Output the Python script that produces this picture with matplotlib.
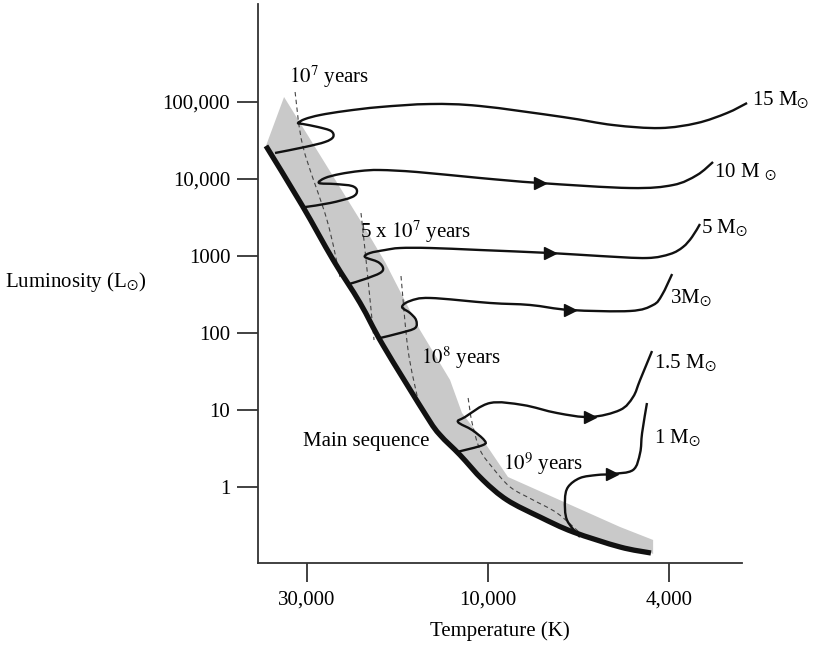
import numpy as np
import matplotlib
matplotlib.use('Agg')
import matplotlib.pyplot as plt
from matplotlib.path import Path
from matplotlib.patches import PathPatch

plt.rcParams['font.family'] = ['Liberation Serif', 'DejaVu Serif']
plt.rcParams['mathtext.fontset'] = 'stix'

# x: position on the temperature axis (0 = 30,000 K, 1 = 10,000 K, 2 = 4,000 K)
# y: log10 of luminosity in solar units
temp_ticks = [0, 1, 2]
temp_labels = ['30,000', '10,000', '4,000']
lum_ticks = [0, 1, 2, 3, 4, 5]
lum_labels = ['1', '10', '100', '1000', '10,000', '100,000']

# main sequence (thick line)
ms_x = [-0.227, -0.028, 0.144, 0.293, 0.420, 0.663, 0.735, 0.845, 0.972, 1.105, 1.287, 1.470, 1.729, 1.900]
ms_y = [4.43, 3.66, 2.95, 2.39, 1.84, 0.91, 0.675, 0.416, 0.09, -0.169, -0.39, -0.584, -0.779, -0.857]

# upper / right edge of the grey band
band_x = [-0.127, 0.044, 0.293, 0.431, 0.624, 0.790, 0.856, 0.972, 1.110, 1.729, 1.912, 1.912]
band_y = [5.065, 4.416, 3.468, 2.922, 2.039, 1.390, 0.961, 0.610, 0.130, -0.519, -0.688, -0.870]

# age lines (dashed)
d7_x = [-0.066, -0.022, 0.110, 0.182]
d7_y = [5.13, 4.416, 3.468, 2.727]
d5e7_x = [0.298, 0.326, 0.370]
d5e7_y = [3.558, 2.948, 1.909]
d8_x = [0.519, 0.558, 0.613]
d8_y = [2.740, 1.779, 1.130]
d9_x = [0.890, 0.912, 0.956, 1.022, 1.122, 1.249, 1.381, 1.508]
d9_y = [1.156, 0.831, 0.481, 0.260, 0.0, -0.169, -0.338, -0.597]

# evolutionary tracks
m15_x = [-0.177, -0.011, 0.099, 0.144, 0.133, 0.061, -0.022, -0.050, -0.011, 0.072, 0.210, 0.403,
         0.680, 0.956, 1.414, 1.691, 1.950, 2.155, 2.320, 2.431]
m15_y = [4.338, 4.416, 4.481, 4.545, 4.623, 4.675, 4.714, 4.727, 4.779, 4.831, 4.883, 4.935,
         4.974, 4.948, 4.805, 4.701, 4.662, 4.727, 4.857, 4.987]
m10_x = [-0.011, 0.127, 0.249, 0.276, 0.249, 0.155, 0.066, 0.099, 0.182, 0.293, 0.403, 0.608,
         0.956, 1.287, 1.785, 2.022, 2.155, 2.243]
m10_y = [3.636, 3.688, 3.766, 3.844, 3.909, 3.935, 3.948, 4.013, 4.065, 4.104, 4.117, 4.091,
         4.013, 3.948, 3.883, 3.922, 4.052, 4.221]
m5_x = [0.232, 0.320, 0.403, 0.420, 0.392, 0.320, 0.348, 0.431, 0.514, 0.680, 0.956, 1.343,
        1.619, 1.878, 2.006, 2.077, 2.127, 2.171]
m5_y = [2.636, 2.701, 2.779, 2.844, 2.922, 2.987, 3.039, 3.078, 3.104, 3.104, 3.078, 3.039,
        3.000, 2.974, 3.026, 3.117, 3.247, 3.416]
m3_x = [0.403, 0.514, 0.597, 0.602, 0.569, 0.525, 0.569, 0.680, 1.011, 1.232, 1.453, 1.785,
        1.912, 1.961, 2.017]
m3_y = [1.935, 2.000, 2.065, 2.169, 2.260, 2.338, 2.416, 2.455, 2.390, 2.364, 2.299, 2.286,
        2.364, 2.494, 2.766]
m15b_x = [0.829, 0.972, 0.978, 0.912, 0.834, 0.873, 1.011, 1.193, 1.381, 1.564, 1.729, 1.801,
          1.840, 1.906]
m15b_y = [0.455, 0.545, 0.610, 0.740, 0.844, 0.909, 1.091, 1.065, 0.961, 0.909, 1.000, 1.169,
          1.390, 1.766]
m1_x = [1.508, 1.436, 1.425, 1.442, 1.508, 1.602, 1.685, 1.801, 1.840, 1.851, 1.878]
m1_y = [-0.649, -0.429, -0.169, 0.0, 0.117, 0.156, 0.169, 0.221, 0.442, 0.701, 1.091]

# arrowheads on the tracks
arrow_x = [1.287, 1.343, 1.453, 1.564, 1.685]
arrow_y = [3.948, 3.039, 2.299, 0.909, 0.169]

tracks = [(m15_x, m15_y), (m10_x, m10_y), (m5_x, m5_y), (m3_x, m3_y), (m15b_x, m15b_y), (m1_x, m1_y)]
mass_labels = [r'15 M$_{\odot}$', r'10 M $_{\odot}$', r'5 M$_{\odot}$', r'3M$_{\odot}$',
               r'1.5 M$_{\odot}$', r'1 M$_{\odot}$']
mass_label_x = [2.459, 2.249, 2.177, 2.006, 1.917, 1.917]
mass_label_y = [5.026, 4.091, 3.364, 2.455, 1.610, 0.636]

age_labels = [r'$10^{7}$ years', r'5 x $10^{7}$ years', r'$10^{8}$ years', r'$10^{9}$ years']
age_label_x = [0.122, 0.602, 0.851, 1.304]
age_label_y = [5.325, 3.312, 1.675, 0.299]


def smooth_path(xs, ys):
    # Catmull-Rom through the points, drawn as cubic bezier segments
    p = np.column_stack([xs, ys]).astype(float)
    pts = [p[0]]
    codes = [Path.MOVETO]
    n = len(p)
    for i in range(n - 1):
        p0 = p[i - 1] if i > 0 else p[i]
        p1, p2 = p[i], p[i + 1]
        p3 = p[i + 2] if i + 2 < n else p[i + 1]
        pts += [p1 + (p2 - p0) / 6.0, p2 - (p3 - p1) / 6.0, p2]
        codes += [Path.CURVE4] * 3
    return Path(np.array(pts), codes)


fig = plt.figure(figsize=(8.18, 6.45), dpi=100)
ax = fig.add_axes([258/818, 82/645, 484/818, 559/645])

# grey band: upper edge then main sequence back
poly_x = band_x + ms_x[::-1]
poly_y = band_y + ms_y[::-1]
ax.fill(poly_x, poly_y, color='#c9c9c9', lw=0, zorder=1)

for dx, dy in [(d7_x, d7_y), (d5e7_x, d5e7_y), (d8_x, d8_y), (d9_x, d9_y)]:
    ax.add_patch(PathPatch(smooth_path(dx, dy), fill=False, ec='#444444', lw=0.8,
                           ls=(0, (4, 3)), zorder=2))

ax.add_patch(PathPatch(smooth_path(ms_x, ms_y), fill=False, ec='#111111', lw=3.8,
                       capstyle='butt', zorder=4))

for tx, ty in tracks:
    ax.add_patch(PathPatch(smooth_path(tx, ty), fill=False, ec='#111111', lw=1.7,
                           zorder=3, clip_on=False, joinstyle='round'))

ax.plot(arrow_x, arrow_y, ls='none', marker='>', ms=9, color='#111111', zorder=5)

for lab, lx, ly in zip(mass_labels, mass_label_x, mass_label_y):
    ax.text(lx, ly, lab, fontsize=15, ha='left', va='center', clip_on=False)

for lab, lx, ly in zip(age_labels, age_label_x, age_label_y):
    ax.text(lx, ly, lab, fontsize=15, ha='center', va='center')

ax.text(0.326, 0.597, 'Main sequence', fontsize=15, ha='center', va='center')

ax.set_xlim(-0.271, 2.403)
ax.set_ylim(-0.987, 6.273)
ax.set_xticks(temp_ticks)
ax.set_xticklabels(temp_labels, fontsize=15)
ax.set_yticks(lum_ticks)
ax.set_yticklabels(lum_labels, fontsize=15)
ax.tick_params(axis='x', length=14, width=1.3, pad=6, color='#333333')
ax.tick_params(axis='y', length=15, width=1.3, pad=5, color='#333333')
ax.spines['top'].set_visible(False)
ax.spines['right'].set_visible(False)
for s in ['left', 'bottom']:
    ax.spines[s].set_linewidth(1.3)
    ax.spines[s].set_color('#333333')

ax.set_xlabel('Temperature (K)', fontsize=15, labelpad=8)
fig.text(5/818, 1 - 282/645, r'Luminosity (L$_{\odot}$)', fontsize=15, ha='left', va='center')

fig.savefig('out.png', dpi=100)
